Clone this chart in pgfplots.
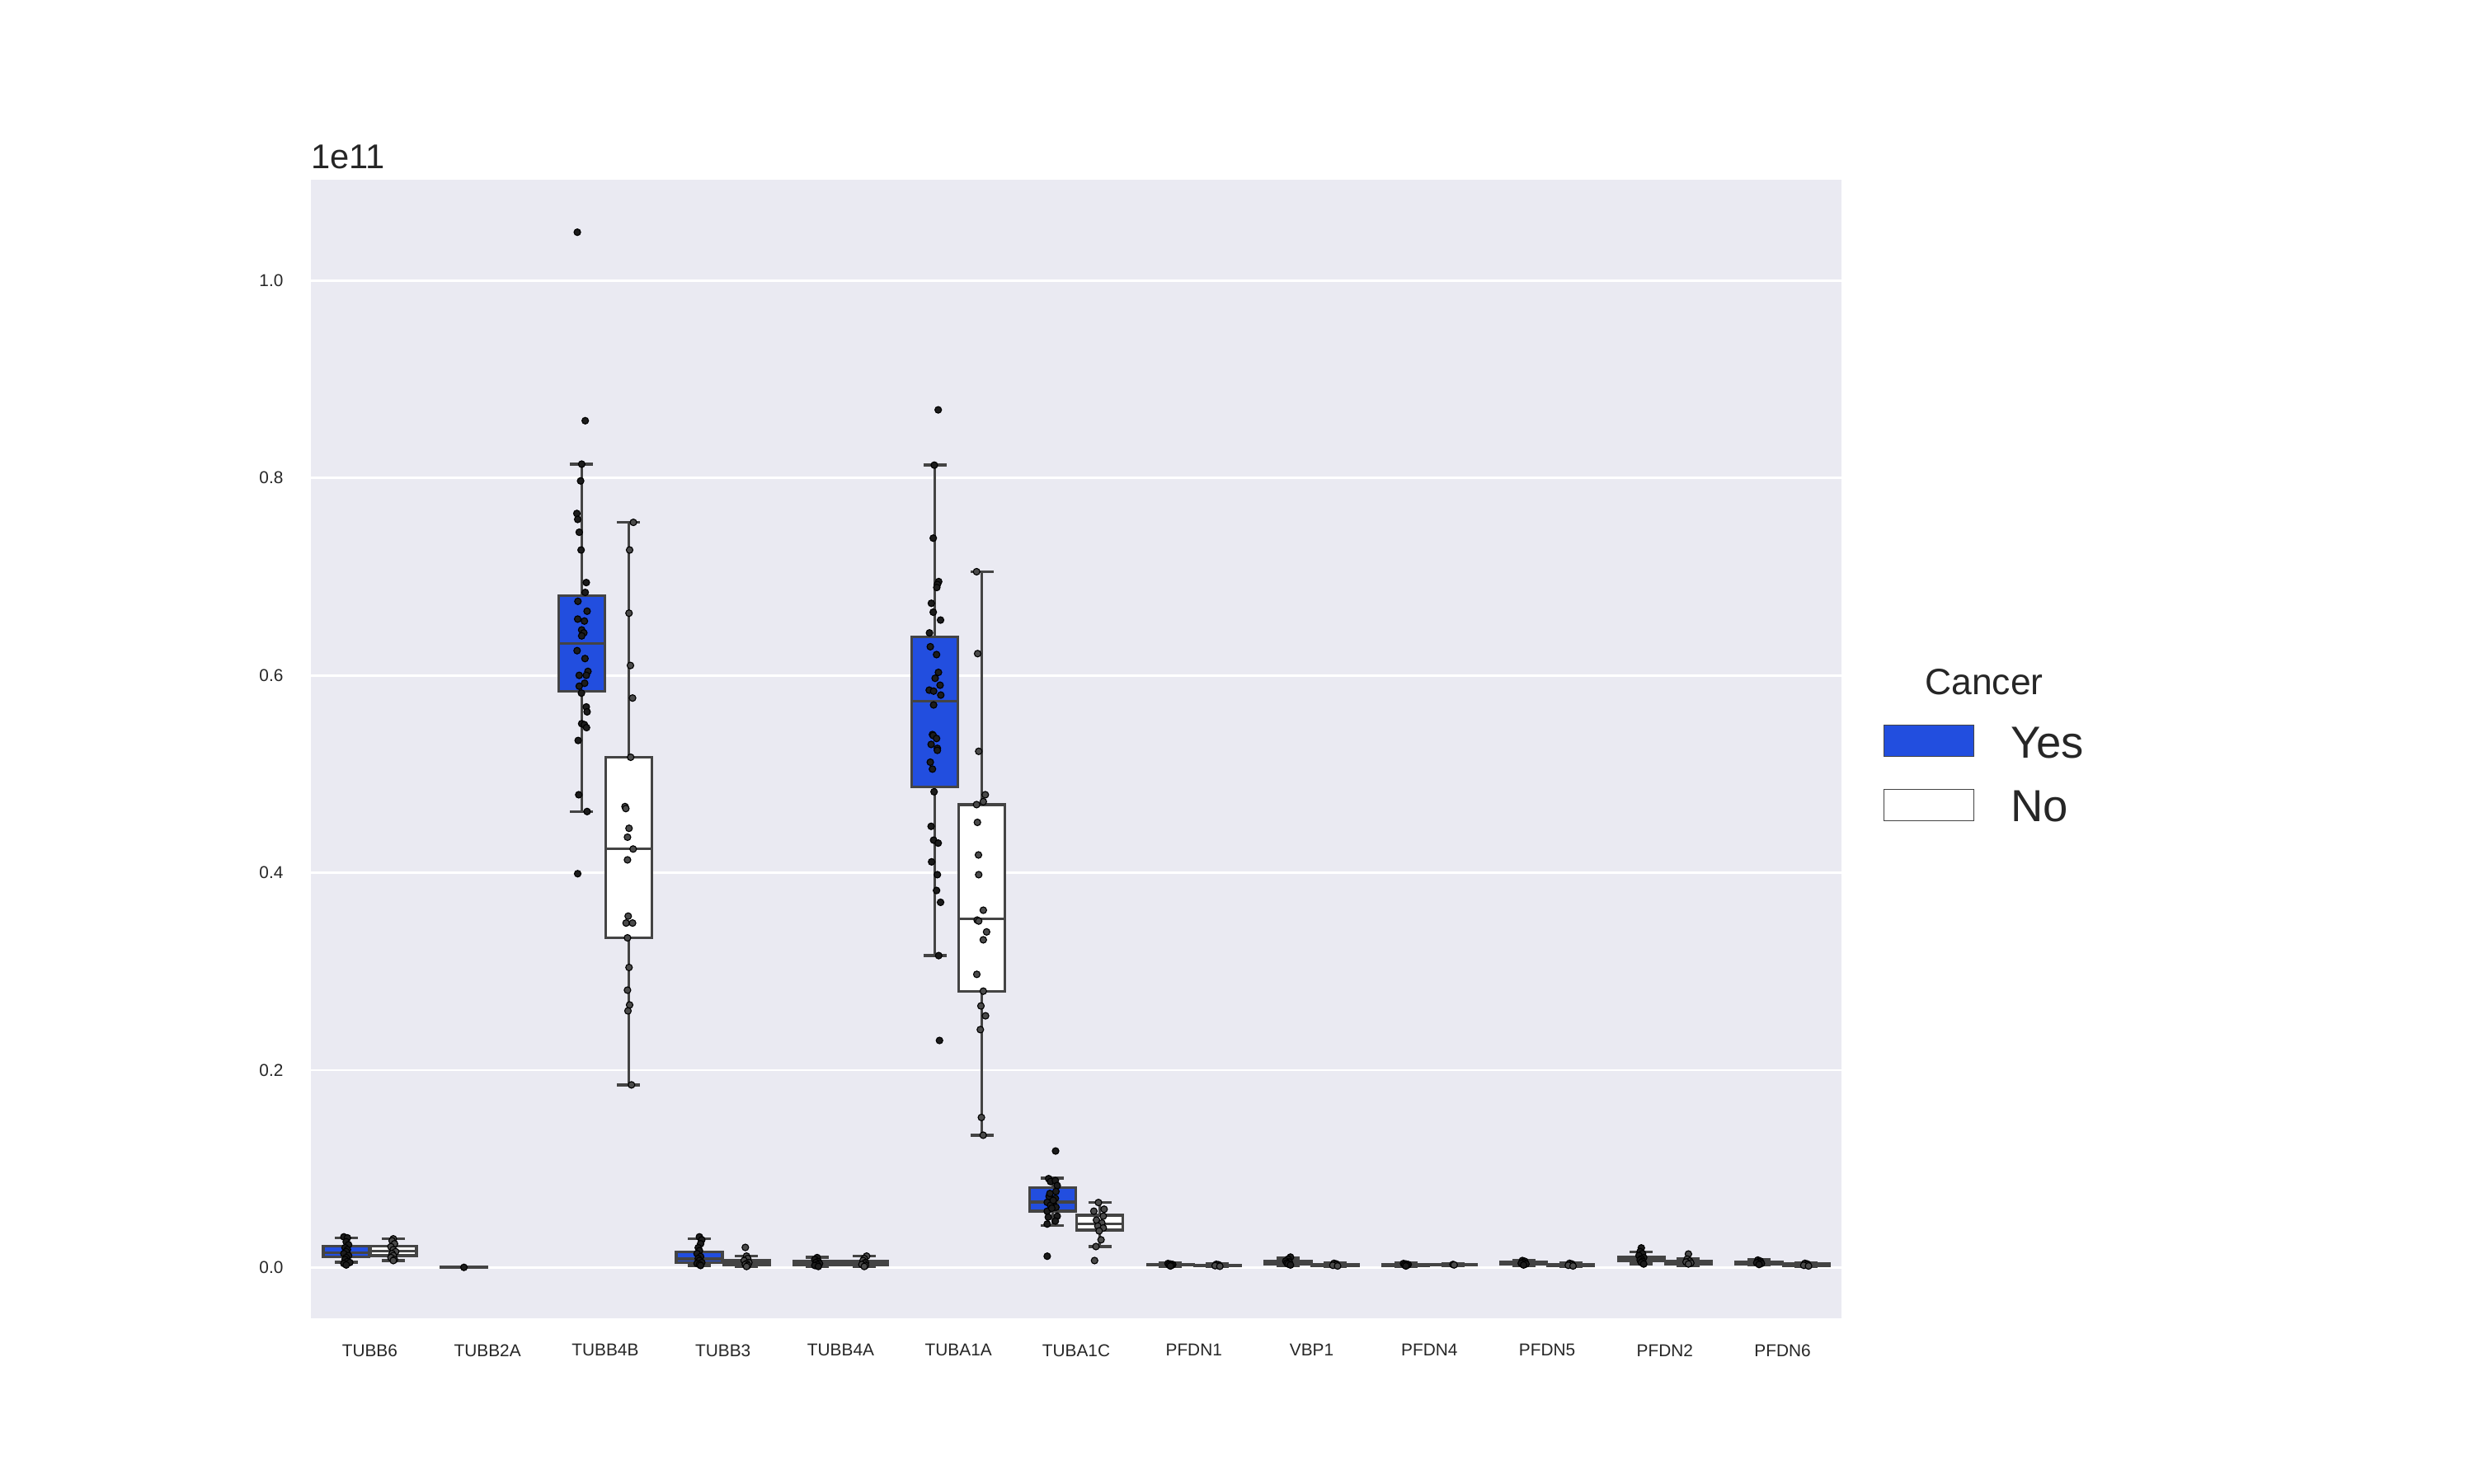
\documentclass[border=0pt]{standalone}
\usepackage{fontspec}
\setmainfont{Liberation Sans}
\usepackage{pgfplots}
\pgfplotsset{compat=1.18}
\usepgfplotslibrary{statistics}
\definecolor{bg}{HTML}{EAEAF2}
\definecolor{cyes}{HTML}{224EDF}
\definecolor{boxedge}{HTML}{444444}
\definecolor{ptyes}{HTML}{1C1C1C}
\definecolor{ptno}{HTML}{4A4A4A}
\pgfplotsset{
  yesbox/.style={draw=boxedge, fill=cyes, line width=1.2pt, solid, forget plot},
  nobox/.style={draw=boxedge, fill=white, line width=1.2pt, solid, forget plot},
  yespts/.style={only marks, mark=*, mark size=1.45pt, mark options={draw=none, fill=ptyes}, forget plot},
  nopts/.style={only marks, mark=*, mark size=1.45pt, mark options={draw=none, fill=ptno}, forget plot},
}
\newcommand{\bx}[7]{% style, pos, lw, lq, med, uq, uw
  \addplot[#1, boxplot/draw direction=y, boxplot prepared={draw position=#2, box extend=0.392, whisker extend=0.196,
    lower whisker=#3, lower quartile=#4, median=#5, upper quartile=#6, upper whisker=#7}] coordinates {};}
\begin{document}
\begin{tikzpicture}
\path[use as bounding box] (-135.72pt,-72.36pt) rectangle (944.28pt,575.64pt);
\begin{axis}[
  at={(0pt,0pt)}, anchor=south west,
  scale only axis, width=668.16pt, height=497.16pt,
  xmin=-0.5, xmax=12.5, ymin=-0.0515, ymax=1.1022,
  axis background/.style={fill=bg},
  axis line style={draw=none},
  tick style={draw=none},
  xtick={0,...,12},
  xticklabels={TUBB6,TUBB2A,TUBB4B,TUBB3,TUBB4A,TUBA1A,TUBA1C,PFDN1,VBP1,PFDN4,PFDN5,PFDN2,PFDN6},
  ytick={0,0.2,0.4,0.6,0.8,1.0},
  scaled y ticks=false,
  /pgf/number format/assume math mode=true,
  yticklabel style={/pgf/number format/fixed, /pgf/number format/precision=1, /pgf/number format/fixed zerofill, inner sep=0pt, xshift=-11.9pt, font=\fontsize{7.5}{9}\selectfont, text=black!85},
  xticklabel style={inner sep=0pt, yshift=-11.2pt, font=\fontsize{7.5}{9}\selectfont, text=black!85},
  ymajorgrids, xmajorgrids=false,
  major grid style={white, line width=1pt},
  legend style={at={(1.02748,0.52136)}, anchor=north west, draw=none, fill=none,
    inner sep=0pt, outer sep=0pt, row sep=12pt, column sep=15.8pt,
    nodes={inner sep=0pt}, font=\fontsize{19.6}{23}\selectfont, text=black!85},
  legend cell align=left,
  clip=false,
]
% ---- legend ----
\addlegendimage{legend image code/.code={\draw[fill=cyes, draw=boxedge, line width=0.5pt] (0pt,-5.5pt) rectangle (39.2pt,8.2pt);}}
\addlegendentry{Yes}
\addlegendimage{legend image code/.code={\draw[fill=white, draw=boxedge, line width=0.5pt] (0pt,-5.5pt) rectangle (39.2pt,8.2pt);}}
\addlegendentry{No}
% ---- boxes ----
\bx{yesbox}{-0.2}{0.0053}{0.0106}{0.015}{0.0215}{0.030}
\bx{nobox}{0.2}{0.0071}{0.012}{0.0166}{0.0215}{0.029}
\bx{yesbox}{0.8}{0}{0}{0.0001}{0.0002}{0.0003}
\bx{yesbox}{1.8}{0.462}{0.584}{0.632}{0.681}{0.814}
\bx{nobox}{2.2}{0.185}{0.334}{0.424}{0.517}{0.755}
\bx{yesbox}{2.8}{0.002}{0.0048}{0.0086}{0.0156}{0.0292}
\bx{nobox}{3.2}{0.0005}{0.0023}{0.0045}{0.0073}{0.0115}
\bx{yesbox}{3.8}{0.0005}{0.0023}{0.0048}{0.0065}{0.0102}
\bx{nobox}{4.2}{0.0005}{0.0023}{0.0045}{0.0064}{0.0115}
\bx{yesbox}{4.8}{0.316}{0.487}{0.574}{0.639}{0.813}
\bx{nobox}{5.2}{0.134}{0.280}{0.353}{0.469}{0.705}
\bx{yesbox}{5.8}{0.0424}{0.0571}{0.0663}{0.081}{0.0906}
\bx{nobox}{6.2}{0.0212}{0.038}{0.044}{0.053}{0.0658}
\bx{yesbox}{6.8}{0.0012}{0.0022}{0.0028}{0.0034}{0.0045}
\bx{nobox}{7.2}{0.0008}{0.0016}{0.002}{0.0025}{0.0035}
\bx{yesbox}{7.8}{0.002}{0.0035}{0.0048}{0.0065}{0.0095}
\bx{nobox}{8.2}{0.0008}{0.0018}{0.0025}{0.0032}{0.0045}
\bx{yesbox}{8.8}{0.0012}{0.002}{0.0028}{0.0034}{0.0045}
\bx{nobox}{9.2}{0.002}{0.0025}{0.0028}{0.003}{0.0035}
\bx{yesbox}{9.8}{0.002}{0.0035}{0.0045}{0.0055}{0.007}
\bx{nobox}{10.2}{0.001}{0.0018}{0.0025}{0.003}{0.0045}
\bx{yesbox}{10.8}{0.0035}{0.0065}{0.0088}{0.011}{0.0155}
\bx{nobox}{11.2}{0.002}{0.0035}{0.005}{0.0065}{0.009}
\bx{yesbox}{11.8}{0.0025}{0.0035}{0.0047}{0.006}{0.008}
\bx{nobox}{12.2}{0.001}{0.002}{0.0028}{0.0035}{0.0045}
% ---- strip points: Yes ----
\addplot[yespts] coordinates {
 (-0.22,0.031) (-0.19,0.030) (-0.20,0.026) (-0.18,0.023) (-0.21,0.020) (-0.19,0.018) (-0.20,0.016)
 (-0.22,0.014) (-0.18,0.012) (-0.20,0.010) (-0.21,0.008) (-0.19,0.006) (-0.17,0.005) (-0.22,0.004) (-0.20,0.0025)
 (0.80,0.0001)
 (1.763,1.049) (1.830,0.858) (1.800,0.814) (1.791,0.797) (1.759,0.764) (1.766,0.758) (1.779,0.745)
 (1.795,0.727) (1.839,0.694) (1.830,0.684) (1.768,0.675) (1.846,0.665) (1.766,0.657) (1.823,0.655)
 (1.800,0.646) (1.818,0.643) (1.800,0.640) (1.761,0.625) (1.828,0.617) (1.853,0.604) (1.779,0.600)
 (1.839,0.600) (1.825,0.592) (1.779,0.589) (1.798,0.582) (1.839,0.568) (1.846,0.563) (1.800,0.551)
 (1.823,0.550) (1.841,0.547) (1.770,0.534) (1.775,0.479) (1.846,0.462) (1.766,0.399)
 (2.80,0.031) (2.82,0.028) (2.81,0.024) (2.79,0.020) (2.80,0.017) (2.78,0.014) (2.81,0.011)
 (2.79,0.009) (2.80,0.007) (2.82,0.005) (2.78,0.004) (2.80,0.003) (2.81,0.002)
 (3.80,0.010) (3.78,0.008) (3.81,0.006) (3.79,0.005) (3.82,0.004) (3.80,0.003) (3.78,0.002) (3.81,0.001)
 (4.828,0.869) (4.795,0.813) (4.786,0.739) (4.832,0.695) (4.821,0.692) (4.816,0.689) (4.770,0.673)
 (4.786,0.664) (4.848,0.656) (4.754,0.643) (4.761,0.629) (4.814,0.621) (4.830,0.603) (4.802,0.597)
 (4.844,0.590) (4.752,0.585) (4.789,0.584) (4.850,0.580) (4.789,0.570) (4.779,0.540) (4.786,0.539)
 (4.814,0.536) (4.768,0.530) (4.821,0.526) (4.821,0.524) (4.761,0.512) (4.779,0.505) (4.793,0.482)
 (4.768,0.447) (4.789,0.433) (4.828,0.430) (4.772,0.411) (4.821,0.398) (4.814,0.382) (4.848,0.370)
 (4.832,0.316) (4.839,0.230)
 (5.825,0.118) (5.754,0.0114) (5.766,0.090) (5.782,0.087) (5.823,0.088) (5.839,0.083) (5.828,0.077)
 (5.770,0.072) (5.823,0.070) (5.754,0.066) (5.805,0.065) (5.782,0.063) (5.828,0.061) (5.754,0.057)
 (5.839,0.052) (5.763,0.051) (5.823,0.047) (5.754,0.044) (5.793,0.060) (5.805,0.068) (5.777,0.075)
 (6.78,0.0040) (6.80,0.0035) (6.82,0.0030) (6.79,0.0026) (6.81,0.0022) (6.80,0.0015)
 (7.82,0.0105) (7.80,0.0085) (7.78,0.0065) (7.81,0.0055) (7.79,0.0045) (7.80,0.0035) (7.82,0.0025)
 (8.78,0.0040) (8.80,0.0035) (8.82,0.0030) (8.79,0.0026) (8.81,0.0022) (8.80,0.0015)
 (9.79,0.0070) (9.81,0.0062) (9.80,0.0050) (9.78,0.0042) (9.82,0.0035) (9.80,0.0025)
 (10.80,0.0198) (10.79,0.0160) (10.81,0.0140) (10.78,0.0120) (10.82,0.0100) (10.80,0.0088)
 (10.79,0.0075) (10.81,0.0062) (10.80,0.0050) (10.82,0.0035)
 (11.79,0.0075) (11.81,0.0065) (11.80,0.0055) (11.78,0.0047) (11.82,0.0040) (11.80,0.0030)
};
% ---- strip points: No ----
\addplot[nopts] coordinates {
 (0.20,0.029) (0.19,0.027) (0.21,0.024) (0.18,0.021) (0.20,0.018) (0.22,0.016) (0.19,0.014)
 (0.20,0.012) (0.18,0.010) (0.21,0.008) (0.20,0.007)
 (2.239,0.755) (2.207,0.727) (2.202,0.663) (2.214,0.610) (2.232,0.577) (2.216,0.517) (2.168,0.467)
 (2.175,0.465) (2.202,0.445) (2.189,0.436) (2.237,0.424) (2.189,0.413) (2.195,0.356) (2.177,0.349)
 (2.232,0.349) (2.189,0.334) (2.202,0.304) (2.189,0.281) (2.207,0.266) (2.193,0.260) (2.223,0.185)
 (3.19,0.0203) (3.20,0.0115) (3.21,0.009) (3.18,0.007) (3.22,0.005) (3.20,0.004) (3.19,0.003) (3.21,0.002) (3.20,0.001)
 (4.22,0.0115) (4.20,0.009) (4.19,0.007) (4.21,0.005) (4.20,0.004) (4.18,0.003) (4.21,0.002) (4.20,0.001)
 (5.154,0.705) (5.163,0.622) (5.172,0.523) (5.228,0.479) (5.211,0.472) (5.154,0.469) (5.161,0.451)
 (5.170,0.418) (5.172,0.398) (5.211,0.362) (5.159,0.352) (5.172,0.351) (5.239,0.340) (5.211,0.332)
 (5.156,0.297) (5.211,0.280) (5.191,0.265) (5.230,0.255) (5.186,0.241) (5.195,0.152) (5.210,0.134)
 (6.189,0.0658) (6.150,0.057) (6.237,0.059) (6.230,0.052) (6.172,0.048) (6.218,0.045) (6.184,0.042)
 (6.230,0.040) (6.195,0.037) (6.211,0.028) (6.168,0.0212) (6.156,0.007)
 (7.19,0.0032) (7.21,0.0027) (7.20,0.0022) (7.18,0.0018) (7.22,0.0012)
 (8.19,0.0042) (8.21,0.0035) (8.20,0.0028) (8.18,0.0022) (8.22,0.0015)
 (9.20,0.0030) (9.21,0.0026)
 (10.19,0.0042) (10.21,0.0035) (10.20,0.0028) (10.18,0.0022) (10.22,0.0015)
 (11.20,0.0136) (11.19,0.0085) (11.21,0.0065) (11.18,0.0055) (11.22,0.0045) (11.20,0.0035)
 (12.19,0.0042) (12.21,0.0035) (12.20,0.0028) (12.18,0.0022) (12.22,0.0015)
};
% ---- texts ----
\node[anchor=base west, inner sep=0pt, font=\fontsize{15}{18}\selectfont, text=black!85] at (rel axis cs:0,1) [yshift=5pt] {1e11};
\node[anchor=base, inner sep=0pt, font=\fontsize{16}{19}\selectfont, text=black!85] at (rel axis cs:1.09316,0.54751) {Cancer};
\end{axis}
\end{tikzpicture}
\end{document}
